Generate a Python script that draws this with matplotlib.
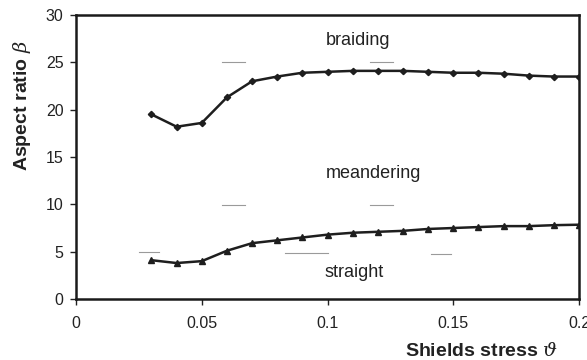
import matplotlib
matplotlib.use("Agg")
import matplotlib.pyplot as plt

plt.rcParams['font.family'] = ['Liberation Sans', 'DejaVu Sans']
plt.rcParams['mathtext.fontset'] = 'dejavuserif'

# Shields stress values
theta = [0.03, 0.04, 0.05, 0.06, 0.07, 0.08, 0.09, 0.10, 0.11, 0.12,
         0.13, 0.14, 0.15, 0.16, 0.17, 0.18, 0.19, 0.20]
# braiding / meandering boundary
beta_upper = [19.5, 18.2, 18.6, 21.3, 23.0, 23.5, 23.9, 24.0, 24.1, 24.1,
              24.1, 24.0, 23.9, 23.9, 23.8, 23.6, 23.5, 23.5]
# meandering / straight boundary
beta_lower = [4.1, 3.8, 4.0, 5.1, 5.9, 6.2, 6.5, 6.8, 7.0, 7.1,
              7.2, 7.4, 7.5, 7.6, 7.7, 7.7, 7.8, 7.85]

regions = ["braiding", "meandering", "straight"]
region_x = [0.112, 0.1182, 0.1105]
region_y = [27.3, 13.3, 2.85]

# faint dashes left over in the scanned figure: (x0, x1, y)
dashes = [(0.058, 0.067, 25.0), (0.117, 0.126, 25.0),
          (0.058, 0.067, 9.9), (0.117, 0.126, 9.9),
          (0.025, 0.033, 5.0), (0.083, 0.100, 4.9), (0.141, 0.149, 4.75)]

fig = plt.figure(figsize=(5.87, 3.6), dpi=100)
ax = fig.add_axes([0.1295, 0.1694, 0.8569, 0.7889])

for x0, x1, y in dashes:
    ax.plot([x0, x1], [y, y], color="#9a9a9a", lw=0.8, zorder=1)

ax.plot(theta, beta_upper, color="#1e1e1e", lw=1.8, marker="D", ms=3.2, zorder=3)
ax.plot(theta, beta_lower, color="#1e1e1e", lw=1.8, marker="^", ms=4, zorder=3)

for name, x, y in zip(regions, region_x, region_y):
    ax.text(x, y, name, ha="center", va="center", fontsize=13, color="#222222")

ax.set_xlim(0, 0.2)
ax.set_ylim(0, 30)
ax.set_xticks([0, 0.05, 0.1, 0.15, 0.2])
ax.set_xticklabels(["0", "0.05", "0.1", "0.15", "0.2"])
ax.set_yticks([0, 5, 10, 15, 20, 25, 30])
ax.tick_params(direction="out", length=4, width=1, labelsize=11.5, colors="#222222")
ax.tick_params(axis="x", pad=8)
ax.tick_params(axis="y", pad=5)

for s in ax.spines.values():
    s.set_linewidth(1.8)
    s.set_color("#1a1a1a")

fig.text(0.950, 0.025, r"Shields stress $\vartheta$", ha="right", va="center",
         fontsize=14, fontweight="bold", color="#222222")
fig.text(0.038, 0.705, r"Aspect ratio $\beta$", ha="center", va="center", rotation=90,
         fontsize=14, fontweight="bold", color="#222222")

fig.savefig("out.png", dpi=100)
